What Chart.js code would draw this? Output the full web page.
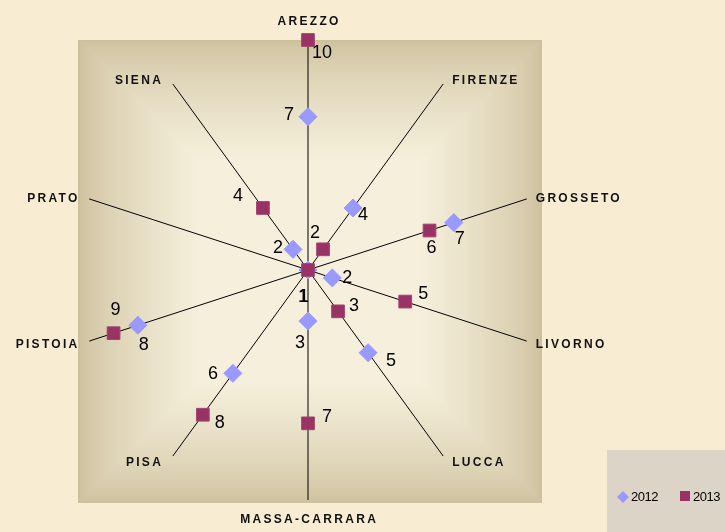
<!DOCTYPE html>
<html>
<head>
<meta charset="utf-8">
<script src="https://cdn.jsdelivr.net/npm/chart.js@4.4.0/dist/chart.umd.min.js"></script>
<style>
  html, body { margin: 0; padding: 0; background: #f8ecd3; }
  #wrap { width: 725px; height: 532px; position: relative; }
</style>
</head>
<body>
<div id="wrap"><canvas id="radar" width="725" height="532"></canvas></div>
<script>
// ── Dati ─────────────────────────────────────────────
const PROVINCE = ['AREZZO', 'FIRENZE', 'GROSSETO', 'LIVORNO', 'LUCCA', 'MASSA-CARRARA', 'PISA', 'PISTOIA', 'PRATO', 'SIENA'];
const SERIE    = ['2012', '2013'];
const VAL_2012 = [7, 4, 7, 2, 5, 3, 6, 8, 1, 2];
const VAL_2013 = [10, 2, 6, 5, 3, 7, 8, 9, 1, 4];
const SCALA_MIN = 1;
const SCALA_MAX = 10;

// spostamento delle etichette dei valori rispetto al punto (px)
const OFF_2012 = [[-19, -2], [10, 7], [6, 16], [15, 0], [23, 8], [-8, 22], [-20, 1], [6, 20], [-5, 27], [-15, -1]];
const OFF_2013 = [[14, 13], [-8, -16], [2, 18], [18, -8], [16, -5], [19, -6], [17, 8], [2, -23], [-4, 27], [-25, -12]];
const OFFSETS  = [OFF_2012, OFF_2013];

const FONT = '"Liberation Sans", Arial, sans-serif';
const SPAZIO = 2.3;

// sfondo quadrato con sfumatura dai bordi verso il centro
const sfondo = {
    id: 'sfondo',
    beforeDraw(chart) {
        const s = chart.scales.r;
        const ctx = chart.ctx;
        const x0 = s.xCenter - s.drawingArea, y0 = s.yCenter - s.drawingArea;
        const w = s.drawingArea * 2 + 4, h = s.drawingArea * 2 + 3;
        const edge = [205, 192, 156], mid = [245, 239, 219];
        const steps = 60, depth = 120;
        ctx.save();
        for (let k = 0; k <= steps; k++) {
            const t = k / steps;
            const e = Math.pow(t, 0.7);
            const c = edge.map((v, j) => Math.round(v + (mid[j] - v) * e));
            const d = t * depth;
            ctx.fillStyle = `rgb(${c[0]},${c[1]},${c[2]})`;
            ctx.fillRect(x0 + d, y0 + d, w - 2 * d, h - 2 * d);
        }
        ctx.restore();
    }
};

// etichette dei valori, delle province e legenda
const etichette = {
    id: 'etichette',
    afterDatasetsDraw(chart) {
        const ctx = chart.ctx;
        ctx.save();
        ctx.fillStyle = '#000';
        ctx.textAlign = 'center';
        ctx.textBaseline = 'middle';
        chart.data.datasets.forEach((ds, di) => {
            const meta = chart.getDatasetMeta(di);
            meta.data.forEach((pt, i) => {
                const off = OFFSETS[di][i];
                ctx.font = '18px ' + FONT;
                ctx.fillText(String(ds.data[i]), pt.x + off[0], pt.y + off[1]);
            });
        });
        ctx.restore();
    },
    afterDraw(chart) {
        const s = chart.scales.r;
        const ctx = chart.ctx;
        ctx.save();
        ctx.fillStyle = '#111';
        ctx.font = 'bold 12px ' + FONT;
        ctx.letterSpacing = SPAZIO + 'px';
        ctx.textBaseline = 'middle';
        ctx.textAlign = 'left';
        PROVINCE.forEach((nome, i) => {
            const p = s.getPointPosition(i, s.drawingArea);
            const ang = s.getIndexAngle(i) - Math.PI / 2;
            const dx = p.x - s.xCenter;
            const w = ctx.measureText(nome).width - SPAZIO;
            let x, y = p.y + Math.sin(ang) * 6 + 2;
            if (dx > 5) x = p.x + 9;
            else if (dx < -5) x = p.x - 12 - w;
            else {
                x = p.x - w / 2;
                y = p.y + (Math.sin(ang) < 0 ? -18 : 20);
            }
            ctx.fillText(nome, x, y);
        });

        // legenda
        ctx.letterSpacing = '-0.5px';
        ctx.fillStyle = '#dcd5c7';
        ctx.fillRect(607, 450, 118, 82);
        ctx.font = '13px ' + FONT;
        const ds = chart.data.datasets;
        // 2012: rombo
        ctx.fillStyle = ds[0].pointBackgroundColor;
        ctx.beginPath();
        ctx.moveTo(623, 491); ctx.lineTo(629, 497); ctx.lineTo(623, 503); ctx.lineTo(617, 497);
        ctx.closePath();
        ctx.fill();
        ctx.fillStyle = '#000';
        ctx.fillText(ds[0].label, 631, 497);
        // 2013: quadrato
        ctx.fillStyle = ds[1].pointBackgroundColor;
        ctx.fillRect(680, 491, 10, 10);
        ctx.fillStyle = '#000';
        ctx.fillText(ds[1].label, 693, 497);
        ctx.restore();
    }
};

new Chart(document.getElementById('radar').getContext('2d'), {
    type: 'radar',
    data: {
        labels: PROVINCE,
        datasets: [
            {
                label: SERIE[0],
                data: VAL_2012,
                showLine: false,
                fill: false,
                pointStyle: 'rectRot',
                pointRadius: 9,
                pointHoverRadius: 9,
                pointBackgroundColor: '#9999ff',
                pointBorderColor: '#9999ff',
                pointBorderWidth: 1,
                order: 1,
            },
            {
                label: SERIE[1],
                data: VAL_2013,
                showLine: false,
                fill: false,
                pointStyle: 'rect',
                pointRadius: 9,
                pointHoverRadius: 9,
                pointBackgroundColor: '#993366',
                pointBorderColor: '#a3456f',
                pointBorderWidth: 1,
                order: 0,
            },
        ],
    },
    options: {
        responsive: false,
        animation: false,
        layout: { padding: { left: 78, right: 187, top: 40, bottom: 32 } },
        plugins: {
            legend: { display: false },
            tooltip: { enabled: false },
        },
        scales: {
            r: {
                min: SCALA_MIN,
                max: SCALA_MAX,
                ticks: { display: false, stepSize: 1 },
                grid: { display: false },
                angleLines: { display: true, color: '#000', lineWidth: 1 },
                pointLabels: { display: false },
            },
        },
    },
    plugins: [sfondo, etichette],
});
</script>
</body>
</html>
